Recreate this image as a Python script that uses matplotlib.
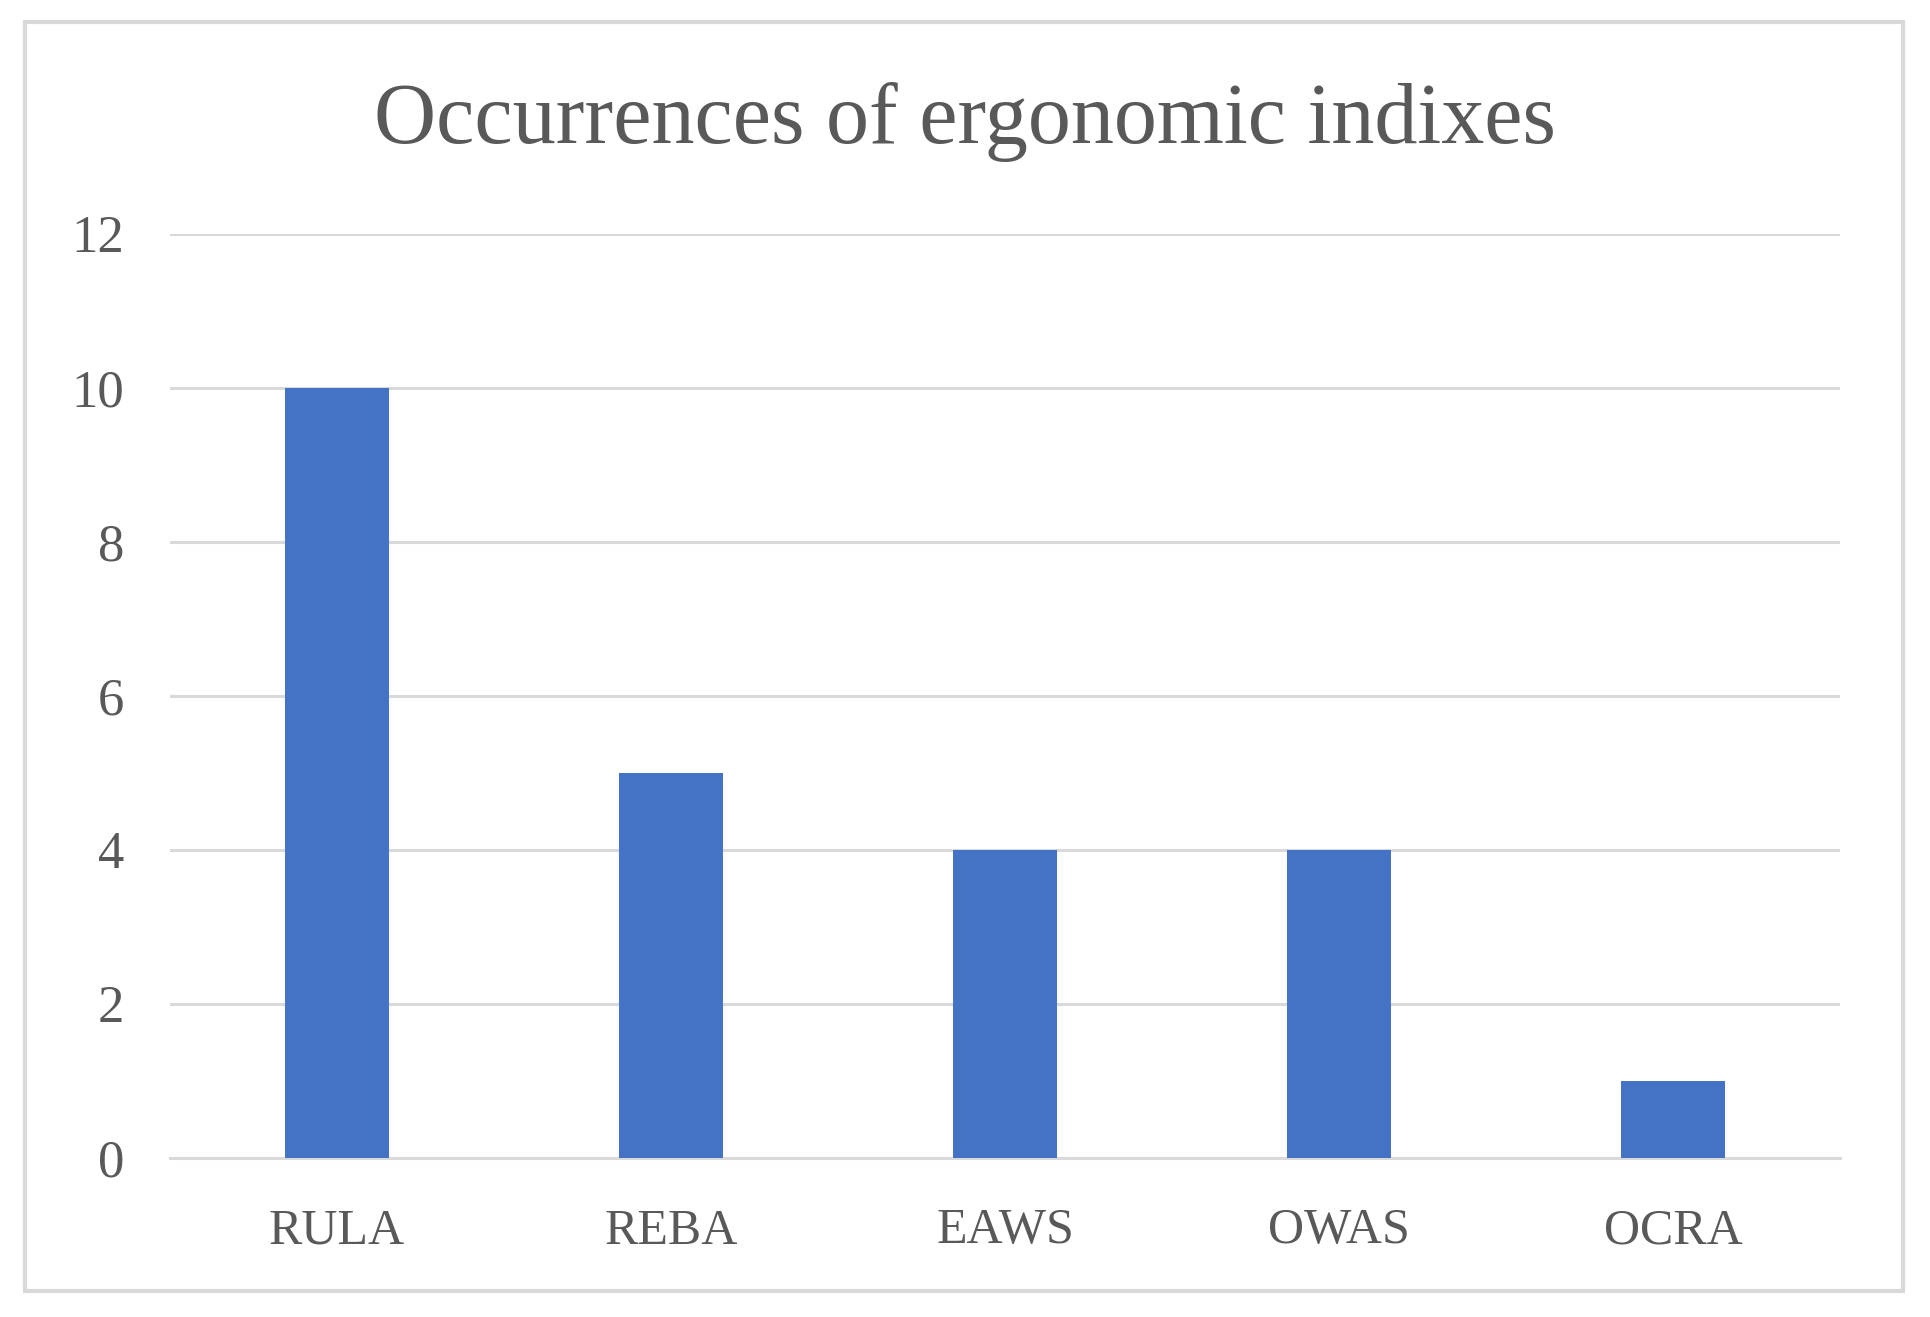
import matplotlib.pyplot as plt
from matplotlib.patches import Rectangle

# chart data
categories = ['RULA', 'REBA', 'EAWS', 'OWAS', 'OCRA']
occurrences = [10, 5, 4, 4, 1]
y_ticks = [0, 2, 4, 6, 8, 10, 12]

BAR_COLOR = '#4472C4'
GRID_COLOR = '#D9D9D9'
TEXT_COLOR = '#595959'
W, H = 1931, 1317

plt.rcParams['font.family'] = ['Liberation Serif', 'DejaVu Serif']

fig = plt.figure(figsize=(W / 100, H / 100), dpi=100)
ax = fig.add_axes([170 / W, (H - 1158) / H, (1840 - 170) / W, (1158 - 234) / H])

ax.bar(range(len(categories)), occurrences, width=0.31, color=BAR_COLOR, zorder=3)

ax.set_xlim(-0.5, len(categories) - 0.5)
ax.set_ylim(0, 12)
ax.set_yticks(y_ticks)
ax.set_xticks(range(len(categories)))
ax.set_xticklabels(categories)
ax.yaxis.grid(True, color=GRID_COLOR, linewidth=2.2, zorder=0)
ax.set_axisbelow(True)

for side in ['top', 'right', 'left']:
    ax.spines[side].set_visible(False)
ax.spines['bottom'].set_color(GRID_COLOR)
ax.spines['bottom'].set_linewidth(2.2)

ax.tick_params(axis='y', length=0, pad=33, labelsize=38, labelcolor=TEXT_COLOR)
ax.tick_params(axis='x', length=0, pad=36, labelsize=36, labelcolor=TEXT_COLOR)

fig.text(0.5, 1 - 122 / H, 'Occurrences of ergonomic indixes', ha='center', va='center',
         fontsize=62, color=TEXT_COLOR)

# outer chart frame
fig.patches.append(Rectangle((25 / W, 1 - 1291 / H), (1903 - 25) / W, (1291 - 22) / H,
                             transform=fig.transFigure, fill=False,
                             edgecolor=GRID_COLOR, linewidth=3))

fig.savefig('out.png', dpi=100, facecolor='white')
